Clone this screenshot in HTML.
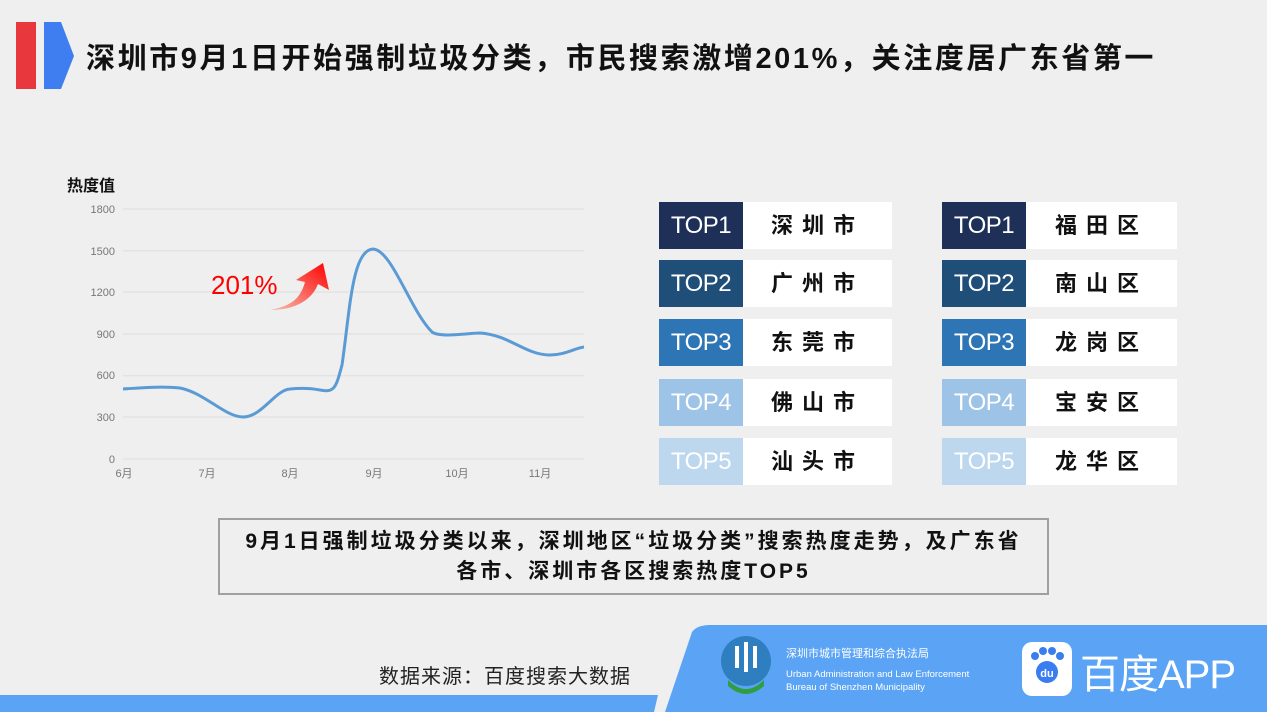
<!DOCTYPE html>
<html><head><meta charset="utf-8"><style>
body{margin:0;width:1267px;height:712px;background:#efefef;position:relative;overflow:hidden;font-family:"Liberation Sans","Noto Sans CJK SC",sans-serif}
.a{position:absolute}
.lb{position:absolute;width:84px;height:47px;color:#fff;font-size:24px;line-height:47px;text-align:center;letter-spacing:-0.5px}
.wb{position:absolute;height:47px;background:#fff;font-size:22px;line-height:47px;text-align:center;font-weight:bold;letter-spacing:9px;color:#111}
</style></head><body>
<div class="a" style="left:16px;top:22px;width:20px;height:67px;background:#e8383d"></div>
<svg class="a" style="left:44px;top:22px" width="32" height="68"><polygon points="0,0 17,0 30,34 17,67 0,67" fill="#3f7ef0"/></svg>
<div class="a" style="left:86px;top:35px;font-size:29px;letter-spacing:2.6px;font-weight:bold;color:#111;white-space:nowrap">深圳市9月1日开始强制垃圾分类，市民搜索激增201%，关注度居广东省第一</div>

<svg class="a" style="left:0;top:170px" width="600" height="320">
<g font-size="11" fill="#777" text-anchor="end">
<text x="115" y="43">1800</text><text x="115" y="85">1500</text><text x="115" y="126">1200</text><text x="115" y="168">900</text><text x="115" y="209">600</text><text x="115" y="251">300</text><text x="115" y="293">0</text>
</g>
<g stroke="#dedede" stroke-width="1">
<line x1="123" x2="584" y1="39" y2="39"/><line x1="123" x2="584" y1="80.7" y2="80.7"/><line x1="123" x2="584" y1="122" y2="122"/><line x1="123" x2="584" y1="164" y2="164"/><line x1="123" x2="584" y1="205.7" y2="205.7"/><line x1="123" x2="584" y1="247" y2="247"/><line x1="123" x2="584" y1="289" y2="289"/>
</g>
<g font-size="11" fill="#777" text-anchor="middle">
<text x="124" y="307">6月</text><text x="207" y="307">7月</text><text x="290" y="307">8月</text><text x="374" y="307">9月</text><text x="457" y="307">10月</text><text x="540" y="307">11月</text>
</g>
<text x="67" y="21" font-size="16" font-weight="bold" fill="#111">热度值</text>
<path d="M123,219 C140,218 160,216 180,218 C205,223 225,247 243,247 C262,247 275,220 290,219 C300,218 310,218 320,220 C335,223 336,217 342,195 C350,140 352,80 373,79 C392,80 410,140 432,162 C440,168 470,163 480,163 C510,165 525,185 550,185 C565,185 575,178 584,177" fill="none" stroke="#5b9bd5" stroke-width="3"/>
<defs><linearGradient id="g" x1="0" y1="1" x2="1" y2="0"><stop offset="0" stop-color="#f4c0b0"/><stop offset="1" stop-color="#ff0000"/></linearGradient></defs>
<path d="M270,140 C290,136 300,130 305,112 L296,110 L323,93 L329,120 L318,114 C312,130 295,140 270,140 Z" fill="url(#g)"/>
<text x="211" y="124" font-size="26" fill="#f00">201%</text>
</svg>

<div class="lb" style="left:659px;top:202px;background:#1e2f58">TOP1</div><div class="wb" style="left:743px;top:202px;width:149px">深圳市</div>
<div class="lb" style="left:659px;top:260px;background:#1f4e79">TOP2</div><div class="wb" style="left:743px;top:260px;width:149px">广州市</div>
<div class="lb" style="left:659px;top:319px;background:#2e75b6">TOP3</div><div class="wb" style="left:743px;top:319px;width:149px">东莞市</div>
<div class="lb" style="left:659px;top:379px;background:#9dc3e6">TOP4</div><div class="wb" style="left:743px;top:379px;width:149px">佛山市</div>
<div class="lb" style="left:659px;top:438px;background:#bdd7ee">TOP5</div><div class="wb" style="left:743px;top:438px;width:149px">汕头市</div>
<div class="lb" style="left:942px;top:202px;background:#1e2f58">TOP1</div><div class="wb" style="left:1026px;top:202px;width:151px">福田区</div>
<div class="lb" style="left:942px;top:260px;background:#1f4e79">TOP2</div><div class="wb" style="left:1026px;top:260px;width:151px">南山区</div>
<div class="lb" style="left:942px;top:319px;background:#2e75b6">TOP3</div><div class="wb" style="left:1026px;top:319px;width:151px">龙岗区</div>
<div class="lb" style="left:942px;top:379px;background:#9dc3e6">TOP4</div><div class="wb" style="left:1026px;top:379px;width:151px">宝安区</div>
<div class="lb" style="left:942px;top:438px;background:#bdd7ee">TOP5</div><div class="wb" style="left:1026px;top:438px;width:151px">龙华区</div>

<div class="a" style="left:218px;top:518px;border:2px solid #a0a0a0;font-size:21px;letter-spacing:3px;font-weight:bold;color:#111;text-align:center;line-height:30px;padding-top:7px;box-sizing:border-box;width:831px;height:77px;white-space:nowrap">9月1日强制垃圾分类以来，深圳地区“垃圾分类”搜索热度走势，及广东省<br>各市、深圳市各区搜索热度TOP5</div>

<div class="a" style="left:379px;top:660px;font-size:20px;letter-spacing:1px;color:#222">数据来源：百度搜索大数据</div>
<svg class="a" style="left:0;top:620px" width="1267" height="92">
<polygon points="0,75 658,75 654,92 0,92" fill="#5ba4f5"/>
<path d="M665,92 L692,12 Q697,5 710,5 L1267,5 L1267,92 Z" fill="#5ba4f5"/>
<circle cx="746" cy="41" r="25" fill="#2f7fc0"/>
<path d="M728,60 Q746,78 764,60 L764,66 Q746,82 728,66 Z" fill="#2e9e3e"/>
<path d="M737,26 v22 M746,22 v30 M755,26 v22" stroke="#fff" stroke-width="4" fill="none"/>
<text x="786" y="37" font-size="11" fill="#fff">深圳市城市管理和综合执法局</text>
<text x="786" y="57" font-size="9.5" fill="#fff">Urban Administration and Law Enforcement</text>
<text x="786" y="70" font-size="9.5" fill="#fff">Bureau of Shenzhen Municipality</text>
<rect x="1022" y="22" width="50" height="54" rx="10" fill="#fff"/>
<circle cx="1047" cy="52" r="11" fill="#3a7df0"/>
<circle cx="1035" cy="36" r="4" fill="#3a7df0"/><circle cx="1043" cy="31" r="4" fill="#3a7df0"/><circle cx="1052" cy="31" r="4" fill="#3a7df0"/><circle cx="1060" cy="36" r="4" fill="#3a7df0"/>
<text x="1047" y="57" font-size="11" fill="#fff" text-anchor="middle" font-weight="bold">du</text>
<text x="1080" y="68" font-size="40" fill="#fff" letter-spacing="-1">百度APP</text>
</svg>
</body></html>
